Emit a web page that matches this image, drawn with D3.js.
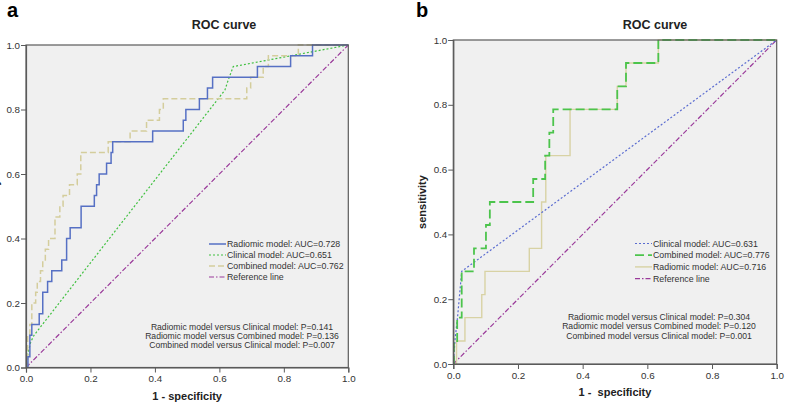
<!DOCTYPE html>
<html>
<head>
<meta charset="utf-8">
<script src="https://cdn.jsdelivr.net/npm/d3@7"></script>
<style>
  body { margin: 0; background: #fff; }
  svg { display: block; font-family: "Liberation Sans", Arial, sans-serif; }
</style>
</head>
<body>
<div id="chart"></div>
<script>
// tick values shared by both panels
const tickValues = [0, 0.2, 0.4, 0.6, 0.8, 1.0];

// panel a : [1 - specificity, sensitivity]
const radiomicA = [[0,0],[0.006,0.033],[0.012,0.1],[0.018,0.133],[0.041,0.167],[0.052,0.233],[0.067,0.267],[0.08,0.3],[0.111,0.333],[0.126,0.4],[0.137,0.433],[0.171,0.5],[0.212,0.533],[0.219,0.567],[0.227,0.6],[0.25,0.633],[0.264,0.667],[0.269,0.7],[0.393,0.733],[0.488,0.767],[0.496,0.8],[0.538,0.833],[0.563,0.867],[0.579,0.9],[0.718,0.933],[0.821,0.967],[0.889,1],[1,1]];
const clinicalA = [[0,0],[0.006,0.045],[0.015,0.08],[0.025,0.1],[0.617,0.86],[0.627,0.89],[0.643,0.933],[1,1]];
const combinedA = [[0,0],[0.005,0.1],[0.012,0.133],[0.018,0.2],[0.03,0.233],[0.035,0.267],[0.045,0.3],[0.052,0.333],[0.06,0.367],[0.07,0.4],[0.09,0.467],[0.105,0.5],[0.115,0.533],[0.135,0.567],[0.159,0.6],[0.17,0.667],[0.255,0.7],[0.323,0.733],[0.374,0.767],[0.414,0.8],[0.426,0.833],[0.685,0.867],[0.697,0.9],[0.736,0.933],[0.752,0.967],[0.845,1],[1,1]];

// panel b
const clinicalB = [[0,0],[0.005,0.071],[0.013,0.143],[0.026,0.286],[1,1]];
const combinedB = [[0,0],[0.002,0.071],[0.012,0.143],[0.026,0.286],[0.064,0.357],[0.101,0.429],[0.113,0.5],[0.247,0.571],[0.284,0.643],[0.297,0.714],[0.309,0.786],[0.507,0.857],[0.534,0.929],[0.634,1],[1,1]];
const radiomicB = [[0,0],[0.01,0.071],[0.036,0.143],[0.088,0.214],[0.098,0.286],[0.235,0.357],[0.273,0.5],[0.286,0.643],[0.361,0.786],[0.507,0.857],[0.534,0.929],[0.634,1],[1,1]];

const referenceLine = [[0,0],[1,1]];

const legendA = ["Radiomic model: AUC=0.728", "Clinical model: AUC=0.651", "Combined model: AUC=0.762", "Reference line"];
const legendB = ["Clinical model: AUC=0.631", "Combined model: AUC=0.776", "Radiomic model: AUC=0.716", "Reference line"];
const pTextA = ["Radiomic model versus Clinical model: P=0.141", "Radiomic model versus Combined model: P=0.136", "Combined model versus Clinical model: P=0.007"];
const pTextB = ["Radiomic model versus Clinical model: P=0.304", "Radiomic model versus Combined model: P=0.120", "Combined model versus Clinical model: P=0.001"];

// line styles
const sty = {
  blueSolid:  {stroke: "#5670c4", width: 1.5, dash: null},
  greenDot:   {stroke: "#40c040", width: 1.2, dash: "2,2"},
  tanDash:    {stroke: "#d4cd9c", width: 1.5, dash: "6,3"},
  purple:     {stroke: "#9a3a9a", width: 1.2, dash: "5,2,1.5,2"},
  blueDot:    {stroke: "#5a6cd0", width: 1.2, dash: "2,2"},
  greenDash:  {stroke: "#4cc44c", width: 1.8, dash: "9,4"},
  tanSolid:   {stroke: "#d8d2a4", width: 1.4, dash: null}
};

const svg = d3.select("#chart").append("svg")
  .attr("width", 787)
  .attr("height", 406);

function drawPanel(p) {
  const x = d3.scaleLinear().domain([0, 1]).range([p.x0, p.x1]);
  const y = d3.scaleLinear().domain([0, 1]).range([p.y0, p.y1]);
  const g = svg.append("g");

  // plot background
  g.append("rect")
    .attr("x", p.x0).attr("y", p.y1)
    .attr("width", p.x1 - p.x0).attr("height", p.y0 - p.y1)
    .attr("fill", "#f0f0f0");

  const clip = "clip-" + p.letter;
  g.append("clipPath").attr("id", clip)
    .append("rect")
    .attr("x", p.x0).attr("y", p.y1 - 1)
    .attr("width", p.x1 - p.x0 + 1).attr("height", p.y0 - p.y1 + 1);

  const lines = g.append("g").attr("clip-path", "url(#" + clip + ")");
  p.series.forEach(s => {
    const line = d3.line()
      .x(d => x(d[0]))
      .y(d => y(d[1]))
      .curve(s.step ? d3.curveStepAfter : d3.curveLinear);
    lines.append("path")
      .datum(s.data)
      .attr("d", line)
      .attr("fill", "none")
      .attr("stroke", s.style.stroke)
      .attr("stroke-width", s.style.width)
      .attr("stroke-dasharray", s.style.dash);
  });

  // frame
  g.append("rect")
    .attr("x", p.x0).attr("y", p.y1)
    .attr("width", p.x1 - p.x0).attr("height", p.y0 - p.y1)
    .attr("fill", "none")
    .attr("stroke", "#5a5a5a")
    .attr("stroke-width", 1.2);

  // axes
  const xAxis = d3.axisBottom(x).tickValues(tickValues).tickFormat(d3.format(".1f")).tickSize(5).tickPadding(3);
  const yAxis = d3.axisLeft(y).tickValues(tickValues).tickFormat(d3.format(".1f")).tickSize(5).tickPadding(1);
  const xg = g.append("g").attr("transform", "translate(0," + p.y0 + ")").call(xAxis);
  const yg = g.append("g").attr("transform", "translate(" + p.x0 + ",0)").call(yAxis);
  [xg, yg].forEach(ax => {
    ax.select(".domain").attr("stroke", "#5a5a5a").attr("stroke-width", 1.2);
    ax.selectAll(".tick line").attr("stroke", "#5a5a5a");
    ax.selectAll(".tick text").attr("fill", "#333").style("font-size", "9.8px");
  });

  // panel letter
  svg.append("text")
    .attr("x", p.letterX).attr("y", 17)
    .style("font-size", "20px").style("font-weight", "bold")
    .text(p.letter);

  // title
  svg.append("text")
    .attr("x", p.titleX).attr("y", 28.5)
    .attr("text-anchor", "middle")
    .style("font-size", "12.5px").style("font-weight", "bold")
    .attr("fill", "#222")
    .text("ROC curve");

  // axis titles
  svg.append("text")
    .attr("x", (p.x0 + p.x1) / 2).attr("y", p.y0 + 32)
    .attr("text-anchor", "middle")
    .style("font-size", "11px").style("font-weight", "bold")
    .attr("fill", "#222")
    .style("white-space", "pre")
    .text(p.xTitle);

  // y title (panel a: mostly cropped off the left edge, as in the source figure)
  const yl = p.x0 - p.yTitleOff, ym = (p.y0 + p.y1) / 2;
  svg.append("text")
    .attr("x", yl).attr("y", ym)
    .attr("transform", "rotate(-90 " + yl + " " + ym + ")")
    .attr("text-anchor", "middle")
    .style("font-size", "11px").style("font-weight", "bold")
    .attr("fill", "#222")
    .text("sensitivity");

  // legend
  p.legend.forEach((t, i) => {
    const ly = p.legY + i * p.legStep;
    const s = p.legStyles[i];
    g.append("line")
      .attr("x1", p.legX).attr("x2", p.legX + 17)
      .attr("y1", ly).attr("y2", ly)
      .attr("stroke", s.stroke)
      .attr("stroke-width", s.width)
      .attr("stroke-dasharray", s.dash);
    g.append("text")
      .attr("x", p.legX + 18).attr("y", ly).attr("dy", "0.35em")
      .style("font-size", "8.8px").attr("fill", "#333")
      .text(t);
  });

  // p values
  p.pText.forEach((t, i) => {
    g.append("text")
      .attr("x", p.pX).attr("y", p.pY + i * p.pStep).attr("dy", "0.35em")
      .attr("text-anchor", "middle")
      .style("font-size", "8.6px").attr("fill", "#333")
      .text(t);
  });
}

drawPanel({
  letter: "a", letterX: 7, titleX: 224,
  x0: 26, x1: 348.3, y0: 367.5, y1: 45,
  xTitle: "1 - specificity", yTitleOff: 27,
  series: [
    {data: referenceLine, style: sty.purple},
    {data: clinicalA, style: sty.greenDot},
    {data: combinedA, style: sty.tanDash, step: true},
    {data: radiomicA, style: sty.blueSolid, step: true}
  ],
  legend: legendA, legStyles: [sty.blueSolid, sty.greenDot, sty.tanDash, sty.purple],
  legX: 209, legY: 244, legStep: 11,
  pText: pTextA, pX: 242, pY: 327, pStep: 9.2
});

drawPanel({
  letter: "b", letterX: 416, titleX: 655,
  x0: 453.3, x1: 776.7, y0: 364, y1: 40,
  xTitle: "1 -  specificity", yTitleOff: 27,
  series: [
    {data: referenceLine, style: sty.purple},
    {data: radiomicB, style: sty.tanSolid, step: true},
    {data: clinicalB, style: sty.blueDot},
    {data: combinedB, style: sty.greenDash, step: true}
  ],
  legend: legendB, legStyles: [sty.blueDot, sty.greenDash, sty.tanSolid, sty.purple],
  legX: 635, legY: 243.5, legStep: 11.7,
  pText: pTextB, pX: 659, pY: 316.7, pStep: 9.7
});
</script>
</body>
</html>
